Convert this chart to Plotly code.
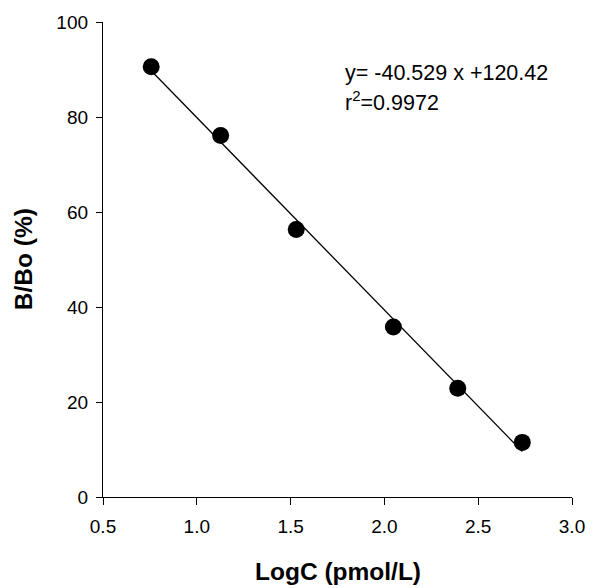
import plotly.graph_objects as go

# Data
log_c = [0.757, 1.127, 1.530, 2.048, 2.391, 2.735]
b_bo = [90.6, 76.1, 56.3, 35.8, 22.9, 11.5]

# Regression shown on the chart
slope = -40.529
intercept = 120.42
r2 = 0.9972

x_ticks = [0.5, 1.0, 1.5, 2.0, 2.5, 3.0]
x_tick_labels = ["0.5", "1.0", "1.5", "2.0", "2.5", "3.0"]
y_ticks = [0, 20, 40, 60, 80, 100]

line_x = [min(log_c), max(log_c)]
line_y = [slope * v + intercept for v in line_x]

font_family = "Liberation Sans, Arial, sans-serif"

L, R, T, B = 102.7, 17, 19.3, 91
W, H = 597, 588
pw, ph = W - L - R, H - T - B


def py(pix):
    return ((H - B) - pix) / ph


fig = go.Figure()
fig.add_trace(go.Scatter(x=line_x, y=line_y, mode="lines",
                         line=dict(color="black", width=1.3), showlegend=False,
                         hoverinfo="skip"))
fig.add_trace(go.Scatter(x=log_c, y=b_bo, mode="markers",
                         marker=dict(color="black", size=17, line=dict(width=0)),
                         showlegend=False))

fig.update_layout(
    width=W, height=H,
    margin=dict(l=L, r=R, t=T, b=B, pad=0),
    paper_bgcolor="white", plot_bgcolor="white",
    font=dict(family=font_family, size=19, color="black"),
    xaxis=dict(range=[0.5, 3.0], tickvals=x_ticks, ticktext=x_tick_labels,
               showline=True, linecolor="black", linewidth=1.3,
               ticks="outside", ticklen=7, tickwidth=1.3, tickcolor="black",
               showgrid=False, zeroline=False, ticklabelstandoff=5),
    yaxis=dict(range=[0, 100], tickvals=y_ticks,
               showline=True, linecolor="black", linewidth=1.3,
               ticks="outside", ticklen=6, tickwidth=1.3, tickcolor="black",
               showgrid=False, zeroline=False, ticklabelstandoff=4),
    annotations=[
        dict(text="<b>LogC (pmol/L)</b>", xref="paper", yref="paper",
             x=0.5, y=py(572), xanchor="center", yanchor="middle",
             showarrow=False, font=dict(size=24.5)),
        dict(text="<b>B/Bo (%)</b>", xref="paper", yref="paper",
             x=-(L - 22) / pw, y=0.5, xanchor="center", yanchor="middle",
             textangle=-90, showarrow=False, font=dict(size=24.5)),
        dict(text=f"y= {slope} x +{intercept}",
             xref="paper", yref="paper", x=(347 - L) / pw,
             y=py(71), xanchor="left", yanchor="middle",
             align="left", showarrow=False, font=dict(size=21.5)),
        dict(text=f"r<sup>2</sup>={r2}",
             xref="paper", yref="paper", x=(347 - L) / pw,
             y=py(99), xanchor="left", yanchor="middle",
             align="left", showarrow=False, font=dict(size=21.5)),
    ],
)

fig.write_html("out.html", config={"displayModeBar": False},
               post_script="document.body.style.margin='0';document.body.style.overflow='hidden';")
